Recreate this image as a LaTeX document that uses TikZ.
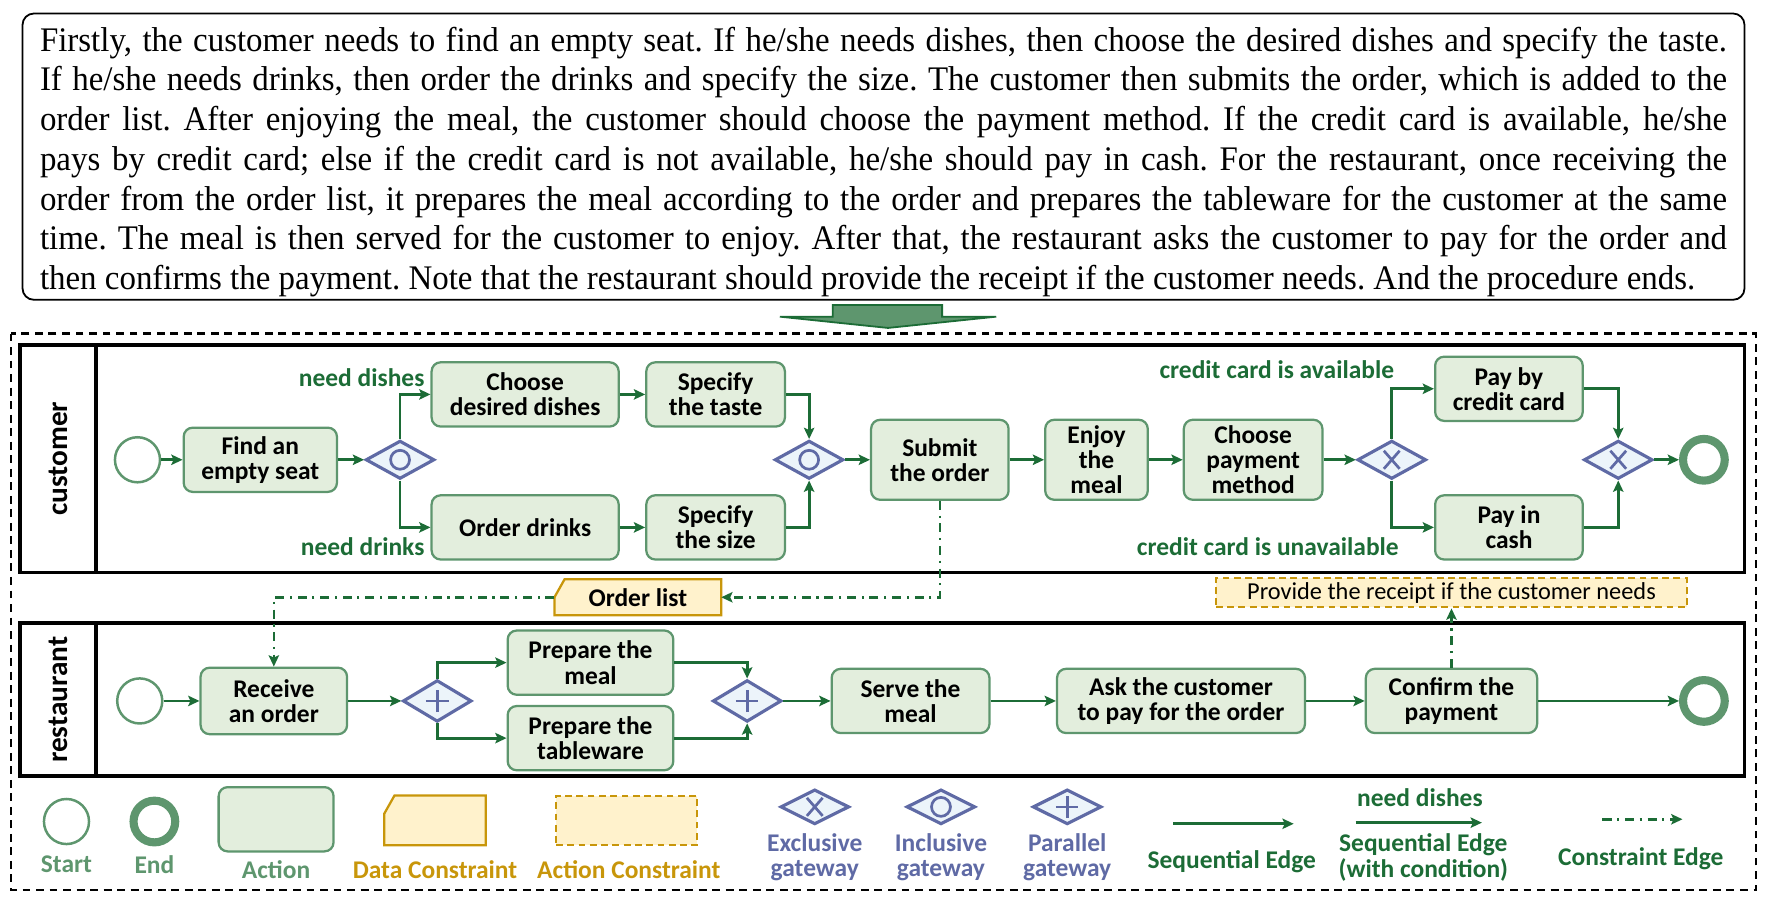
\documentclass[tikz,border=0pt]{standalone}
\usepackage{fontspec}
\setmainfont{Liberation Serif}[FakeStretch=0.955]
\newfontfamily\flowfont{Carlito}
\usetikzlibrary{shapes.geometric,arrows.meta,backgrounds}
\definecolor{actfill}{RGB}{227,238,221}
\definecolor{actline}{RGB}{94,150,110}
\definecolor{edgegreen}{RGB}{28,108,54}
\definecolor{gateline}{RGB}{95,106,165}
\definecolor{gatefill}{RGB}{236,244,250}
\definecolor{datafill}{RGB}{255,242,204}
\definecolor{dataline}{RGB}{200,150,10}
\begin{document}
\begin{tikzpicture}[x=0.5pt,y=-0.5pt,>={Stealth[length=5pt,width=4.6pt,inset=1pt]}]
 \tikzstyle{flow} = [font=\flowfont\bfseries\fontsize{11.3}{11.2}\selectfont]
 \tikzstyle{action} = [flow,draw=actline,fill=actfill,line width=1pt,rounded corners=4pt,align=center,inner sep=0pt,minimum height=28.5pt]
 \tikzstyle{startev} = [circle,draw=actline,line width=1.1pt,minimum size=20pt,inner sep=0pt]
 \tikzstyle{endev} = [circle,draw=actline,line width=3.6pt,minimum size=18.5pt,inner sep=0pt]
 \tikzstyle{gate} = [diamond,draw=gateline,fill=gatefill,line width=1.4pt,inner sep=0pt,minimum width=30.5pt,minimum height=17pt]
 \tikzstyle{xgate} = [gate,path picture={\draw[gateline,line width=1.2pt] (path picture bounding box.center) +(-3.5pt,-4pt) -- +(3.5pt,4pt) +(-3.5pt,4pt) -- +(3.5pt,-4pt);}]
 \tikzstyle{ogate} = [gate,path picture={\draw[gateline,line width=1.2pt] (path picture bounding box.center) circle (4.2pt);}]
 \tikzstyle{pgate} = [gate,path picture={\draw[gateline,line width=1.2pt] (path picture bounding box.center) +(-5pt,0pt) -- +(5pt,0pt) +(0pt,-5pt) -- +(0pt,5pt);}]
 \tikzstyle{seq} = [->,draw=edgegreen,line width=1.25pt]
 \tikzstyle{cons} = [->,draw=edgegreen,line width=1.1pt,dash pattern=on 4pt off 2.5pt on 1pt off 2.5pt]
 \tikzstyle{cond} = [flow,text=edgegreen,inner sep=0pt]
 \tikzstyle{datac} = [flow,inner sep=0pt,outer sep=0pt]
 \tikzstyle{receiptbox} = [draw=dataline,fill=datafill,line width=0.9pt,dash pattern=on 3pt off 2pt,inner sep=0pt,font=\flowfont\fontsize{10.8}{11}\selectfont]
 \tikzstyle{lane} = [line width=1.75pt]
 \tikzstyle{lanelabel} = [font=\flowfont\bfseries\fontsize{13}{13}\selectfont,rotate=90]
 \tikzstyle{legtext} = [flow,align=center,inner sep=0pt]
 \newcommand{\datashape}[1]{\draw[draw=dataline,fill=datafill,line width=1pt] (#1.south west) -- ([yshift=-8pt]#1.north west) -- ([xshift=4.5pt]#1.north west) -- (#1.north east) -- (#1.south east) -- cycle;}

 \useasboundingbox (0,0) rectangle (1568,796);

% Description
 \node[draw,line width=0.8pt,rounded corners=5pt,text width=748.5pt,inner xsep=7.75pt,inner ysep=0pt,minimum height=127pt,align=justify,
       font=\fontsize{15.3}{17.65}\selectfont] (story) at (784,139) {\tolerance=10000\frenchspacing\rule{0pt}{15.5pt}%
Firstly, the customer needs to find an empty seat. If he/she needs dishes, then choose the desired dishes and specify the taste.\linebreak
If he/she needs drinks, then order the drinks and specify the size. The customer then submits the order, which is added to the\linebreak
order list. After enjoying the meal, the customer should choose the payment method. If the credit card is available, he/she\linebreak
pays by credit card; else if the credit card is not available, he/she should pay in cash. For the restaurant, once receiving the\linebreak
order from the order list, it prepares the meal according to the order and prepares the tableware for the customer at the same\linebreak
time. The meal is then served for the customer to enjoy. After that, the restaurant asks the customer to pay for the order and\linebreak
then confirms the payment. Note that the restaurant should provide the receipt if the customer needs. And the procedure ends.};
 \draw[edgegreen,fill=actline,line width=0.8pt] (739,270.6) -- (836,270.6) -- (836,281) -- (884,281) -- (788,291) -- (692,281) -- (739,281) -- cycle;

% Frame and lanes
 \draw[line width=1pt,dash pattern=on 3.5pt off 2.5pt] (10,296) rectangle (1558,790);
 \draw[lane] (18,306) rectangle (1548,508);
 \draw[lane] (85,306) -- (85,508);
 \node[lanelabel] (custlabel) at (52,407) {customer};
 \draw[lane] (18,553) rectangle (1548,689);
 \draw[lane] (85,553) -- (85,689);
 \node[lanelabel] (restlabel) at (52,621) {restaurant};

% Customer
 \node[startev] (cstart) at (122,408) {};
 \node[action,minimum width=68pt] (seat) at (231,408) {Find an\\empty seat};
 \node[ogate] (og1) at (355,408) {};
 \node[action,minimum width=83pt] (dish) at (466,350) {Choose\\desired dishes};
 \node[action,minimum width=83pt] (drink) at (466,468) {Order drinks};
 \node[action,minimum width=61.5pt] (taste) at (635,350) {Specify\\the taste};
 \node[action,minimum width=61.5pt] (size) at (635,468) {Specify\\the size};
 \node[ogate] (og2) at (718,408) {};
 \node[action,minimum width=61pt,minimum height=35.5pt] (submit) at (834,408) {Submit\\the order};
 \node[action,minimum width=45.5pt,minimum height=35.5pt] (enjoy) at (973,408) {Enjoy\\the\\meal};
 \node[action,minimum width=61.5pt,minimum height=35.5pt] (paym) at (1112,408) {Choose\\payment\\method};
 \node[xgate] (xg1) at (1235,408) {};
 \node[action,minimum width=65.5pt] (card) at (1339,345) {Pay by\\credit card};
 \node[action,minimum width=65.5pt] (cash) at (1339,468) {Pay in\\cash};
 \node[xgate] (xg2) at (1436,408) {};
 \node[endev] (cend) at (1512,408) {};

 \node[cond,anchor=east] (ldish) at (377,335) {need dishes};
 \node[cond,anchor=east] (ldrink) at (377,485) {need drinks};
 \node[cond] (lcard) at (1133,328) {credit card is available};
 \node[cond] (lcash) at (1125,485) {credit card is unavailable};

 \draw[seq] (cstart) -- (seat);
 \draw[seq] (seat) -- (og1);
 \draw[seq] (og1.north) |- (dish);
 \draw[seq] (og1.south) |- (drink);
 \draw[seq] (dish) -- (taste);
 \draw[seq] (drink) -- (size);
 \draw[seq] (taste) -| (og2.north);
 \draw[seq] (size) -| (og2.south);
 \draw[seq] (og2) -- (submit);
 \draw[seq] (submit) -- (enjoy);
 \draw[seq] (enjoy) -- (paym);
 \draw[seq] (paym) -- (xg1);
 \draw[seq] (xg1.north) |- (card);
 \draw[seq] (xg1.south) |- (cash);
 \draw[seq] (card) -| (xg2.north);
 \draw[seq] (cash) -| (xg2.south);
 \draw[seq] (xg2) -- (cend);

% Restaurant
 \node[startev] (rstart) at (124,622) {};
 \node[action,minimum width=65pt,minimum height=29.5pt] (recv) at (243,622) {Receive\\an order};
 \node[pgate,minimum height=18.5pt] (pg1) at (388,622) {};
 \node[action,minimum width=73.5pt] (meal) at (524,588) {Prepare the\\meal};
 \node[action,minimum width=73.5pt] (table) at (524,655) {Prepare the\\tableware};
 \node[pgate,minimum height=18.5pt] (pg2) at (663,622) {};
 \node[action,minimum width=70pt] (serve) at (808,622) {Serve the\\meal};
 \node[action,minimum width=110pt] (ask) at (1048,622) {Ask the customer\\to pay for the order};
 \node[action,minimum width=76pt] (confirm) at (1288,622) {Confirm the\\payment};
 \node[endev] (rend) at (1512,622) {};

 \draw[seq] (rstart) -- (recv);
 \draw[seq] (recv) -- (pg1);
 \draw[seq] (pg1.north) |- (meal);
 \draw[seq] (pg1.south) |- (table);
 \draw[seq] (meal) -| (pg2.north);
 \draw[seq] (table) -| (pg2.south);
 \draw[seq] (pg2) -- (serve);
 \draw[seq] (serve) -- (ask);
 \draw[seq] (ask) -- (confirm);
 \draw[seq] (confirm) -- (rend);

% Constraints
 \node[datac,minimum width=74pt,minimum height=16pt] (olist) at (566,530) {Order list};
 \node[receiptbox,minimum width=209pt,minimum height=13pt] (receipt) at (1288,526) {Provide the receipt if the customer needs};
 \draw[cons] (submit.south) |- (olist.east);
 \draw[cons] (olist.west) -| (recv.north);
 \draw[cons] (confirm.north) -- (receipt.south);

% Legend
 \node[startev] (lstart) at (59,729) {};
 \node[legtext,text=actline] (lstartt) at (59,767) {Start};
 \node[endev] (lend) at (137,729) {};
 \node[legtext,text=actline] (lendt) at (137,767) {End};
 \node[action,minimum width=51pt] (lact) at (245,727) {};
 \node[legtext,text=actline] (lactt) at (245,772) {Action};
 \node[datac,minimum width=45pt,minimum height=22pt] (ldata) at (386,728) {};
 \node[legtext,text=dataline] (ldatat) at (386,772) {Data Constraint};
 \node[receiptbox,minimum width=62.5pt,minimum height=22pt] (lacons) at (556,728) {};
 \node[legtext,text=dataline] (laconst) at (558,772) {Action Constraint};
 \node[xgate,minimum height=15.5pt] (lxg) at (723,716) {};
 \node[legtext,text=gateline] (lxgt) at (723,761) {Exclusive\\gateway};
 \node[ogate,minimum height=15.5pt] (log) at (835,716) {};
 \node[legtext,text=gateline] (logt) at (835,761) {Inclusive\\gateway};
 \node[pgate,minimum height=15.5pt] (lpg) at (947,716) {};
 \node[legtext,text=gateline] (lpgt) at (947,761) {Parallel\\gateway};
 \coordinate (lseqa) at (1041,731);
 \coordinate (lseqb) at (1148,731);
 \draw[seq] (lseqa) -- (lseqb);
 \node[legtext,text=edgegreen] (lseqt) at (1093,765) {Sequential Edge};
 \coordinate (lconda) at (1203,730);
 \coordinate (lcondb) at (1315,730);
 \draw[seq] (lconda) -- (lcondb);
 \node[cond] (lcondl) at (1260,708) {need dishes};
 \node[legtext,text=edgegreen] (lcondt) at (1263,761) {Sequential Edge\\(with condition)};
 \coordinate (lconsa) at (1422,727);
 \coordinate (lconsb) at (1493,727);
 \draw[cons] (lconsa) -- (lconsb);
 \node[legtext,text=edgegreen] (lconst) at (1456,762) {Constraint Edge};

% Data shapes behind their texts
 \begin{pgfonlayer}{background}
  \datashape{olist}
  \datashape{ldata}
 \end{pgfonlayer}
\end{tikzpicture}
\end{document}
